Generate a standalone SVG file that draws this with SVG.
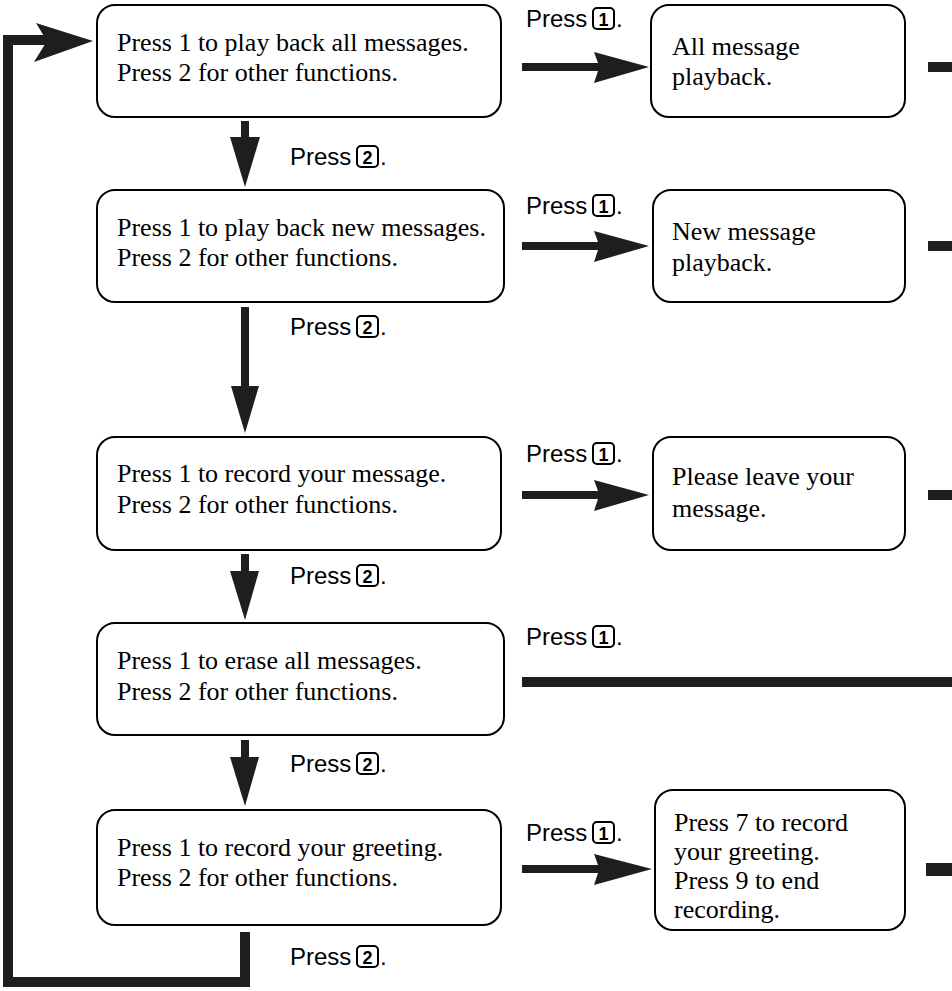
<svg xmlns="http://www.w3.org/2000/svg" width="952" height="991" viewBox="0 0 952 991">
<defs>
<style>
.box{fill:#fff;stroke:#000;stroke-width:2}
.t{font-family:"Liberation Serif","Times New Roman",serif;font-size:26px;fill:#000}
.s{font-family:"Liberation Sans",Arial,sans-serif;font-size:24px;fill:#000}
.kb{font-family:"Liberation Sans",Arial,sans-serif;font-size:18px;font-weight:bold;fill:#000}
.key{fill:none;stroke:#000;stroke-width:2}
.ar{fill:#1e1e1e}
.ln{fill:none;stroke:#1e1e1e;stroke-width:10}
</style>
</defs>
<g id="connectors">
<path class="ln" d="M245,932 V982 H8 V40 H50"/>
<polygon class="ar" points="36,23 93,41 34,62 47,41"/>
<rect class="ar" x="241" y="121" width="8" height="20"/>
<polygon class="ar" points="230,137 260,137 245,187"/>
<rect class="ar" x="241" y="307" width="8" height="82"/>
<polygon class="ar" points="231,386 259,386 245,433"/>
<rect class="ar" x="241" y="554" width="8" height="20"/>
<polygon class="ar" points="230,571 259,571 245,620"/>
<rect class="ar" x="241" y="740" width="8" height="20"/>
<polygon class="ar" points="230,757 259,757 245,806"/>
<polygon class="ar" points="522,63 598,63 594,52 649,67 594,83 598,71 522,71"/>
<polygon class="ar" points="522,242 598,242 594,231 649,246 594,262 598,250 522,250"/>
<polygon class="ar" points="522,491 598,491 594,480 649,495 594,511 598,499 522,499"/>
<polygon class="ar" points="522,865 598,865 594,854 652,869 594,885 598,873 522,873"/>
<rect class="ar" x="522" y="677" width="430" height="10"/>
<rect class="ar" x="928" y="62" width="24" height="10"/>
<rect class="ar" x="928" y="241" width="24" height="10"/>
<rect class="ar" x="928" y="490" width="24" height="10"/>
<rect class="ar" x="926" y="863" width="26" height="13"/>
</g>

<g id="n1">
<rect class="box" x="97" y="5" width="404" height="112" rx="18"/>
<text class="t" x="117" y="51">Press 1 to play back all messages.</text>
<text class="t" x="117" y="81">Press 2 for other functions.</text>
</g>
<g id="n1r">
<rect class="box" x="651" y="5" width="254" height="112" rx="18"/>
<text class="t" x="672" y="55">All message</text>
<text class="t" x="672" y="85">playback.</text>
</g>
<g id="n2">
<rect class="box" x="97" y="190" width="407" height="112" rx="18"/>
<text class="t" x="117" y="236">Press 1 to play back new messages.</text>
<text class="t" x="117" y="266">Press 2 for other functions.</text>
</g>
<g id="n2r">
<rect class="box" x="653" y="190" width="252" height="112" rx="18"/>
<text class="t" x="672" y="240">New message</text>
<text class="t" x="672" y="271">playback.</text>
</g>
<g id="n3">
<rect class="box" x="97" y="437" width="404" height="113" rx="18"/>
<text class="t" x="117" y="482">Press 1 to record your message.</text>
<text class="t" x="117" y="513">Press 2 for other functions.</text>
</g>
<g id="n3r">
<rect class="box" x="653" y="437" width="252" height="113" rx="18"/>
<text class="t" x="672" y="485">Please leave your</text>
<text class="t" x="672" y="517">message.</text>
</g>
<g id="n4">
<rect class="box" x="97" y="623" width="407" height="112" rx="18"/>
<text class="t" x="117" y="669">Press 1 to erase all messages.</text>
<text class="t" x="117" y="700">Press 2 for other functions.</text>
</g>
<g id="n5">
<rect class="box" x="97" y="810" width="404" height="115" rx="18"/>
<text class="t" x="117" y="856">Press 1 to record your greeting.</text>
<text class="t" x="117" y="886">Press 2 for other functions.</text>
</g>
<g id="n5r">
<rect class="box" x="655" y="790" width="250" height="140" rx="18"/>
<text class="t" x="674" y="831">Press 7 to record</text>
<text class="t" x="674" y="860">your greeting.</text>
<text class="t" x="674" y="889">Press 9 to end</text>
<text class="t" x="674" y="918">recording.</text>
</g>

<g id="labels">
<g id="p1a"><text class="s" x="526" y="27">Press</text><rect class="key" x="593" y="8" width="21" height="21" rx="4"/><text class="kb" x="603.5" y="25.5" text-anchor="middle">1</text><text class="s" x="616" y="27">.</text></g>
<g id="p2a"><text class="s" x="290" y="165">Press</text><rect class="key" x="357" y="146" width="21" height="21" rx="4"/><text class="kb" x="367.5" y="163.5" text-anchor="middle">2</text><text class="s" x="380" y="165">.</text></g>
<g id="p1b"><text class="s" x="526" y="214">Press</text><rect class="key" x="593" y="195" width="21" height="21" rx="4"/><text class="kb" x="603.5" y="212.5" text-anchor="middle">1</text><text class="s" x="616" y="214">.</text></g>
<g id="p2b"><text class="s" x="290" y="335">Press</text><rect class="key" x="357" y="316" width="21" height="21" rx="4"/><text class="kb" x="367.5" y="333.5" text-anchor="middle">2</text><text class="s" x="380" y="335">.</text></g>
<g id="p1c"><text class="s" x="526" y="462">Press</text><rect class="key" x="593" y="443" width="21" height="21" rx="4"/><text class="kb" x="603.5" y="460.5" text-anchor="middle">1</text><text class="s" x="616" y="462">.</text></g>
<g id="p2c"><text class="s" x="290" y="584">Press</text><rect class="key" x="357" y="565" width="21" height="21" rx="4"/><text class="kb" x="367.5" y="582.5" text-anchor="middle">2</text><text class="s" x="380" y="584">.</text></g>
<g id="p1d"><text class="s" x="526" y="645">Press</text><rect class="key" x="593" y="626" width="21" height="21" rx="4"/><text class="kb" x="603.5" y="643.5" text-anchor="middle">1</text><text class="s" x="616" y="645">.</text></g>
<g id="p2d"><text class="s" x="290" y="772">Press</text><rect class="key" x="357" y="753" width="21" height="21" rx="4"/><text class="kb" x="367.5" y="770.5" text-anchor="middle">2</text><text class="s" x="380" y="772">.</text></g>
<g id="p1e"><text class="s" x="526" y="841">Press</text><rect class="key" x="593" y="822" width="21" height="21" rx="4"/><text class="kb" x="603.5" y="839.5" text-anchor="middle">1</text><text class="s" x="616" y="841">.</text></g>
<g id="p2e"><text class="s" x="290" y="965">Press</text><rect class="key" x="357" y="946" width="21" height="21" rx="4"/><text class="kb" x="367.5" y="963.5" text-anchor="middle">2</text><text class="s" x="380" y="965">.</text></g>
</g>
</svg>
